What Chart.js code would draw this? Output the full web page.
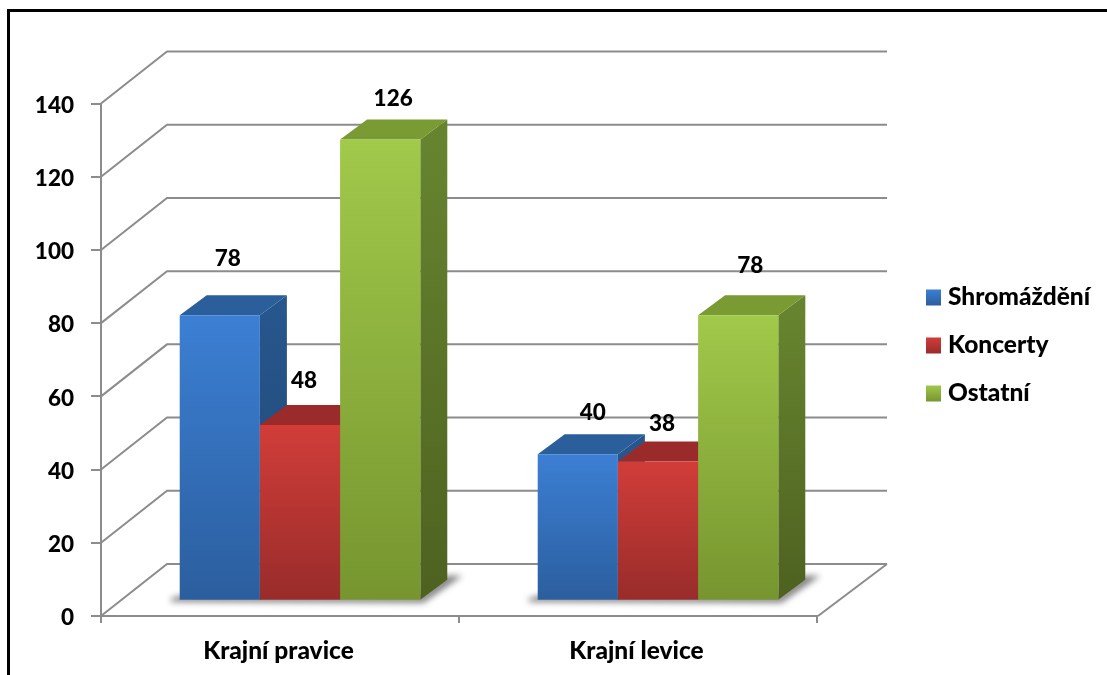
<!DOCTYPE html>
<html>
<head>
<meta charset="utf-8">
<title>Shromáždění</title>
<script src="https://cdn.jsdelivr.net/npm/chart.js@4/dist/chart.umd.min.js"></script>
<style>
    html, body { margin: 0; padding: 0; background: #fff; overflow: hidden; }
    #frame { position: absolute; left: 7px; top: 9px; right: 0; bottom: 0; border-left: 3px solid #000; border-top: 3px solid #000; }
    #chart { position: absolute; left: 0; top: 0; }
</style>
</head>
<body>
<div id="frame"></div>
<canvas id="chart" width="1107" height="675"></canvas>
<script>
const categories = ['Krajní pravice', 'Krajní levice'];
const seriesNames = ['Shromáždění', 'Koncerty', 'Ostatní'];
const shromazdeni = [78, 40];
const koncerty = [48, 38];
const ostatni = [126, 78];

// colours: front top, front bottom, side top, side bottom, top face
const palettes = [
    ['#3c7fd4', '#2b5e9e', '#27568c', '#1f4673', '#2b5f9b'],
    ['#d13d39', '#982c2a', '#8f2826', '#7a2220', '#9b2b2a'],
    ['#a1c94a', '#76952f', '#66842f', '#4e6120', '#7a9a33']
];
const gridColor = '#8c8c8c';
const textFont = { family: 'Lato', size: 24.5, weight: '900' };
const digitFont = { family: 'Lato', size: 22.5, weight: '900' };
const textFontStr = '900 24.5px Lato';
const digitFontStr = '900 22.5px Lato';

// how far the back wall sits from the front axes
const wallDx = 66, wallDy = -52;
const rightDx = 70;
// how far bars sit in from the front axes, and their own depth
const barDx = 20, barDy = -15.3;
const depthX = 27, depthY = -20;
// value labels were placed by hand in the original
const labelNudge = [
    [[8, -56], [15, -42]],
    [[4, -44], [4, -38]],
    [[13, -41], [12, -49]]
];

function vGrad(ctx, top, bottom, c1, c2) {
    const g = ctx.createLinearGradient(0, top, 0, bottom);
    g.addColorStop(0, c1);
    g.addColorStop(1, c2);
    return g;
}

function poly(ctx, pts, fill) {
    ctx.beginPath();
    pts.forEach((p, i) => i ? ctx.lineTo(p[0], p[1]) : ctx.moveTo(p[0], p[1]));
    ctx.closePath();
    ctx.fillStyle = fill;
    ctx.fill();
}

function drawWall(chart) {
    const ctx = chart.ctx, y = chart.scales.y, area = chart.chartArea;
    ctx.save();
    ctx.strokeStyle = gridColor;
    ctx.lineWidth = 2;
    y.ticks.forEach(t => {
        const py = y.getPixelForValue(t.value);
        ctx.beginPath();
        ctx.moveTo(area.left, py);
        ctx.lineTo(area.left + wallDx, py + wallDy);
        ctx.lineTo(area.right + rightDx, py + wallDy);
        ctx.stroke();
    });
    const y0 = y.getPixelForValue(0);
    ctx.beginPath();
    ctx.moveTo(area.right + 1, y0);
    ctx.lineTo(area.right + rightDx, y0 + wallDy);
    ctx.stroke();
    ctx.restore();
}

function drawFloorShadow(chart) {
    const ctx = chart.ctx;
    const first = chart.getDatasetMeta(0).data, last = chart.getDatasetMeta(2).data;
    ctx.save();
    ctx.translate(barDx, barDy);
    ctx.filter = 'blur(3px)';
    first.forEach((bar, i) => {
        const xl = bar.x - bar.width / 2;
        const xr = last[i].x + last[i].width / 2;
        const b = bar.base;
        poly(ctx, [[xl - 9, b - 1], [xl - 9, b + 2], [xr + 3, b + 3], [xr + 42, b - 24], [xr + 26, b - 24], [xr, b - 4], [xl, b - 4]], 'rgba(0,0,0,0.5)');
    });
    ctx.restore();
}

function drawFaces(chart, meta, pal) {
    const ctx = chart.ctx;
    meta.data.forEach(bar => {
        const xl = bar.x - bar.width / 2, xr = bar.x + bar.width / 2;
        const top = bar.y, base = bar.base;
        poly(ctx, [[xr, top], [xr + depthX, top + depthY], [xr + depthX, base + depthY], [xr, base]],
            vGrad(ctx, top, base, pal[2], pal[3]));
        poly(ctx, [[xl, top], [xl + depthX, top + depthY], [xr + depthX, top + depthY], [xr, top]], pal[4]);
    });
}

const wallPlugin = {
    id: 'wall',
    // left to right, so each bar covers the side face of the one before it
    beforeDatasetsDraw(chart) {
        const ctx = chart.ctx;
        drawWall(chart);
        drawFloorShadow(chart);
        ctx.save();
        ctx.translate(barDx, barDy);
        chart.data.datasets.forEach((ds, d) => {
            const meta = chart.getDatasetMeta(d);
            drawFaces(chart, meta, palettes[d]);
            meta.controller.draw();
        });
        ctx.restore();
        return false;
    },
    afterDraw(chart) {
        const ctx = chart.ctx, area = chart.chartArea;
        ctx.save();
        ctx.fillStyle = '#000';
        ctx.font = digitFontStr;
        ctx.textAlign = 'center';
        ctx.textBaseline = 'middle';
        chart.data.datasets.forEach((ds, d) => {
            chart.getDatasetMeta(d).data.forEach((bar, i) => {
                const n = labelNudge[d][i];
                ctx.fillText(ds.data[i], bar.x + barDx + n[0], bar.y + barDy + n[1]);
            });
        });

        // legend sits far off the plot, so it is drawn here
        const left = area.right + 109, firstY = 297.5, step = 48;
        ctx.font = textFontStr;
        ctx.textAlign = 'left';
        chart.data.datasets.forEach((ds, d) => {
            const cy = firstY + step * d;
            ctx.fillStyle = vGrad(ctx, cy - 8, cy + 8, palettes[d][0], palettes[d][1]);
            ctx.fillRect(left, cy - 8, 15, 16);
            ctx.fillStyle = '#000';
            ctx.fillText(ds.label, left + 22, cy);
        });
        ctx.restore();
    }
};

const sources = [shromazdeni, koncerty, ostatni];

new Chart(document.getElementById('chart'), {
    type: 'bar',
    data: {
        labels: categories,
        datasets: seriesNames.map((name, d) => ({
            label: name,
            data: sources[d],
            clip: false,
            barPercentage: 1,
            categoryPercentage: 0.672,
            backgroundColor(c) {
                const y = c.chart.scales.y;
                const value = c.parsed ? c.parsed.y : undefined;
                if (!y || value === undefined) return palettes[d][0];
                const top = y.getPixelForValue(value), base = y.getPixelForValue(0);
                if (!isFinite(top) || !isFinite(base)) return palettes[d][0];
                return vGrad(c.chart.ctx, top, base, palettes[d][0], palettes[d][1]);
            }
        }))
    },
    plugins: [wallPlugin],
    options: {
        responsive: false,
        animation: false,
        devicePixelRatio: 1,
        layout: { padding: { top: 103.5, right: 290, left: 0, bottom: 0 } },
        plugins: { legend: { display: false }, tooltip: { enabled: false } },
        scales: {
            x: {
                afterFit(s) { s.height = 59; },
                grid: { color: gridColor, lineWidth: 2, tickLength: 7, drawOnChartArea: false },
                border: { color: gridColor, width: 2 },
                ticks: { color: '#000', font: textFont, padding: 13, maxRotation: 0, labelOffset: -1.5 }
            },
            y: {
                min: 0,
                max: 140,
                afterFit(s) { s.width = 101; },
                grid: { color: gridColor, lineWidth: 2, tickLength: 10, drawOnChartArea: false },
                border: { color: gridColor, width: 2 },
                ticks: { color: '#000', font: digitFont, stepSize: 20, padding: 17, labelOffset: 2 }
            }
        }
    }
});
</script>
</body>
</html>
